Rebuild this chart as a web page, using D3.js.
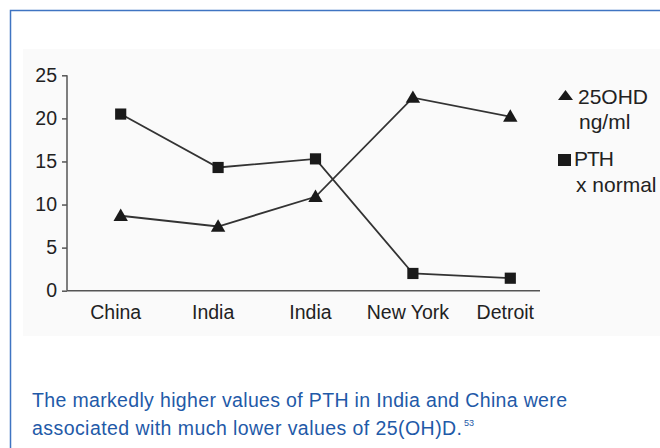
<!DOCTYPE html>
<html>
<head>
<meta charset="utf-8">
<script src="https://cdn.jsdelivr.net/npm/d3@7"></script>
<style>
  body { margin: 0; background: #fff; }
  svg { display: block; font-family: "Liberation Sans", Arial, sans-serif; }
</style>
</head>
<body>
<svg id="chart" width="660" height="448"></svg>
<script>
// data
var sites = ["China", "India", "India", "New York", "Detroit"];
var ohd = [8.7, 7.45, 10.9, 22.4, 20.2];     // 25OHD ng/ml (triangles)
var pth = [20.5, 14.3, 15.3, 2.0, 1.45];     // PTH x normal (squares)
var yTicks = [0, 5, 10, 15, 20, 25];
var legendLabels = [["25OHD", "ng/ml"], ["PTH", "x normal"]];
var captionLines = ["The markedly higher values of PTH in India and China were",
                    "associated with much lower values of 25(OH)D."];

var svg = d3.select("#chart");

// frame + light panel
svg.append("rect").attr("x", 23).attr("y", 49).attr("width", 637).attr("height", 287)
  .attr("fill", "#fafafa");
svg.append("path").attr("d", "M10.5,448 V10.5 H660")
  .attr("fill", "none").attr("stroke", "#3f74c2").attr("stroke-width", 1.5);

var x = d3.scaleBand().domain(d3.range(sites.length)).range([67, 554]).padding(0);
var y = d3.scaleLinear().domain([0, 25]).range([290.7, 75.3]);
var px = function(i) { return x(i) + x.bandwidth() / 2 + 5; };

var g = svg.append("g");

// y axis
var yAxis = g.append("g").attr("transform", "translate(67,0)")
  .call(d3.axisLeft(y).tickValues(yTicks).tickSize(5).tickPadding(5));
yAxis.select(".domain").attr("d", "M0," + y(25) + "V" + y(0));

// x axis
var xAxis = g.append("g").attr("transform", "translate(0," + y(0) + ")")
  .call(d3.axisBottom(x).tickFormat(function(i) { return sites[i]; }).tickSize(0).tickPadding(14));
xAxis.select(".domain").attr("d", "M67,0H540");
xAxis.selectAll(".tick line").remove();
xAxis.selectAll(".sep").data(d3.range(1, sites.length)).enter().append("line")
  .attr("x1", function(i) { return x(i); }).attr("x2", function(i) { return x(i); })
  .attr("y1", 0).attr("y2", 7);

svg.selectAll(".domain, .tick line, .sep").attr("stroke", "#555").attr("stroke-width", 1.5);
svg.selectAll(".tick text").attr("font-size", 19.5).attr("fill", "#222")
  .attr("font-family", "Liberation Sans, Arial, sans-serif");

var line = d3.line().x(function(d, i) { return px(i); }).y(function(d) { return y(d); });

g.append("path").datum(pth).attr("d", line)
  .attr("fill", "none").attr("stroke", "#333").attr("stroke-width", 1.8);
g.append("path").datum(ohd).attr("d", line)
  .attr("fill", "none").attr("stroke", "#333").attr("stroke-width", 1.8);

var sq = d3.symbol().type(d3.symbolSquare).size(125);
var tri = d3.symbol().type(d3.symbolTriangle).size(90);

g.selectAll(".sq").data(pth).enter().append("path")
  .attr("d", sq).attr("fill", "#1a1a1a")
  .attr("transform", function(d, i) { return "translate(" + px(i) + "," + y(d) + ")"; });
g.selectAll(".tri").data(ohd).enter().append("path")
  .attr("d", tri).attr("fill", "#1a1a1a")
  .attr("transform", function(d, i) { return "translate(" + px(i) + "," + (y(d) + 1) + ")"; });

// legend
var lg = svg.append("g").attr("font-size", 21).attr("fill", "#222");
lg.append("path").attr("d", "M558,100 L565.5,90 L573,100 Z").attr("fill", "#1a1a1a");
lg.append("rect").attr("x", 558).attr("y", 154).attr("width", 13).attr("height", 12).attr("fill", "#1a1a1a");
lg.append("text").attr("x", 578).attr("y", 104).text(legendLabels[0][0]);
lg.append("text").attr("x", 579).attr("y", 129).text(legendLabels[0][1]);
lg.append("text").attr("x", 574).attr("y", 166).text(legendLabels[1][0]).attr("letter-spacing", -1);
lg.append("text").attr("x", 576).attr("y", 192).text(legendLabels[1][1]);

// caption
var cap = svg.append("g").attr("fill", "#1f5aa8").attr("font-size", 19.5);
cap.append("text").attr("x", 32).attr("y", 407).attr("textLength", 535)
  .attr("lengthAdjust", "spacing").text(captionLines[0]);
var c2 = cap.append("text").attr("x", 32).attr("y", 435);
c2.append("tspan").attr("textLength", 430).attr("lengthAdjust", "spacing").text(captionLines[1]);
cap.append("text").attr("x", 464).attr("y", 426).attr("font-size", 9).text("53");
</script>
</body>
</html>
